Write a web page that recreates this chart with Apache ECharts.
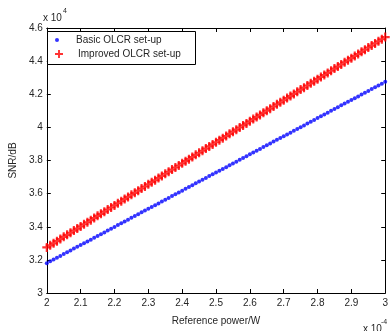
<!DOCTYPE html>
<html>
<head>
<meta charset="utf-8">
<script src="https://cdn.jsdelivr.net/npm/echarts@6/dist/echarts.min.js"></script>
<style>html,body{margin:0;padding:0;background:#fff;}#c{width:391px;height:331px;}</style>
</head>
<body>
<div id="c"></div>
<script>
const seriesNames = ['Basic OLCR set-up', 'Improved OLCR set-up'];
const xTickLabels = ['2','2.1','2.2','2.3','2.4','2.5','2.6','2.7','2.8','2.9','3'];
const yTickLabels = ['3','3.2','3.4','3.6','3.8','4','4.2','4.4','4.6'];
const power = [2.00,2.01,2.02,2.03,2.04,2.05,2.06,2.07,2.08,2.09,
2.10,2.11,2.12,2.13,2.14,2.15,2.16,2.17,2.18,2.19,
2.20,2.21,2.22,2.23,2.24,2.25,2.26,2.27,2.28,2.29,
2.30,2.31,2.32,2.33,2.34,2.35,2.36,2.37,2.38,2.39,
2.40,2.41,2.42,2.43,2.44,2.45,2.46,2.47,2.48,2.49,
2.50,2.51,2.52,2.53,2.54,2.55,2.56,2.57,2.58,2.59,
2.60,2.61,2.62,2.63,2.64,2.65,2.66,2.67,2.68,2.69,
2.70,2.71,2.72,2.73,2.74,2.75,2.76,2.77,2.78,2.79,
2.80,2.81,2.82,2.83,2.84,2.85,2.86,2.87,2.88,2.89,
2.90,2.91,2.92,2.93,2.94,2.95,2.96,2.97,2.98,2.99,3.00];
const basic = [3.180,3.191,3.202,3.213,3.224,3.235,3.246,3.257,3.268,3.279,
3.290,3.300,3.311,3.322,3.333,3.344,3.355,3.366,3.377,3.388,
3.399,3.410,3.421,3.432,3.443,3.454,3.465,3.476,3.487,3.498,
3.509,3.519,3.530,3.541,3.552,3.563,3.574,3.585,3.596,3.607,
3.618,3.629,3.640,3.651,3.662,3.673,3.684,3.695,3.706,3.717,
3.728,3.738,3.749,3.760,3.771,3.782,3.793,3.804,3.815,3.826,
3.837,3.848,3.859,3.870,3.881,3.892,3.903,3.914,3.925,3.936,
3.947,3.957,3.968,3.979,3.990,4.001,4.012,4.023,4.034,4.045,
4.056,4.067,4.078,4.089,4.100,4.111,4.122,4.133,4.144,4.155,
4.166,4.176,4.187,4.198,4.209,4.220,4.231,4.242,4.253,4.264,4.275];
const improved = [3.275,3.288,3.300,3.313,3.326,3.339,3.351,3.364,3.377,3.389,
3.402,3.415,3.427,3.440,3.453,3.466,3.478,3.491,3.504,3.516,
3.529,3.542,3.554,3.567,3.580,3.593,3.605,3.618,3.631,3.643,
3.656,3.669,3.681,3.694,3.707,3.720,3.732,3.745,3.758,3.770,
3.783,3.796,3.808,3.821,3.834,3.847,3.859,3.872,3.885,3.897,
3.910,3.923,3.935,3.948,3.961,3.974,3.986,3.999,4.012,4.024,
4.037,4.050,4.062,4.075,4.088,4.101,4.113,4.126,4.139,4.151,
4.164,4.177,4.189,4.202,4.215,4.228,4.240,4.253,4.266,4.278,
4.291,4.304,4.316,4.329,4.342,4.355,4.367,4.380,4.393,4.405,
4.418,4.431,4.443,4.456,4.469,4.482,4.494,4.507,4.520,4.532,4.545];

const FONT = 'Liberation Sans';
const TXT = '#262626';
const plusPath = 'path://M3.8,0L6.2,0L6.2,3.8L10,3.8L10,6.2L6.2,6.2L6.2,10L3.8,10L3.8,6.2L0,6.2L0,3.8L3.8,3.8Z';

const chart = echarts.init(document.getElementById('c'), null, {renderer: 'canvas'});

function xAxisCfg(pos, showLabel) {
  return {
    type: 'value', min: 2, max: 3, interval: 0.1, position: pos,
    axisLine: {show: true, onZero: false, lineStyle: {color: '#000', width: 1}},
    axisTick: {show: true, inside: true, length: 4, lineStyle: {color: '#000'}},
    axisLabel: {show: showLabel, margin: 5, color: TXT, fontFamily: FONT, fontSize: 10,
      formatter: v => xTickLabels[Math.round((v - 2) * 10)]},
    splitLine: {show: false}
  };
}
function yAxisCfg(pos, showLabel) {
  return {
    type: 'value', min: 3, max: 4.6, interval: 0.2, position: pos,
    axisLine: {show: true, onZero: false, lineStyle: {color: '#000', width: 1}},
    axisTick: {show: true, inside: true, length: 4, lineStyle: {color: '#000'}},
    axisLabel: {show: showLabel, margin: 4, color: TXT, fontFamily: FONT, fontSize: 10,
      formatter: v => yTickLabels[Math.round((v - 3) * 5)]},
    splitLine: {show: false}
  };
}

const xb = xAxisCfg('bottom', true);
xb.name = 'Reference power/W'; xb.nameLocation = 'middle'; xb.nameGap = 23;
xb.nameTextStyle = {color: TXT, fontFamily: FONT, fontSize: 10};
const yl = yAxisCfg('left', true);
yl.name = 'SNR/dB'; yl.nameLocation = 'middle'; yl.nameGap = 27; yl.nameRotate = 90;
yl.nameTextStyle = {color: TXT, fontFamily: FONT, fontSize: 10};

chart.setOption({
  backgroundColor: '#fff',
  animation: false,
  grid: {left: 44, right: 1, top: 28, bottom: 30, containLabel: false},
  xAxis: [xb, xAxisCfg('top', false)],
  yAxis: [yl, yAxisCfg('right', false)],
  legend: [
    {data: [{name: seriesNames[0], icon: 'circle'}], left: 55, top: 35, padding: 0,
     itemWidth: 28, itemHeight: 4, z: 10,
     textStyle: {color: TXT, fontFamily: FONT, fontSize: 10}},
    {data: [{name: seriesNames[1], icon: plusPath}], left: 55, top: 49, padding: 0,
     itemWidth: 28, itemHeight: 8, z: 10,
     textStyle: {color: TXT, fontFamily: FONT, fontSize: 10}}
  ],
  graphic: [
    {type: 'rect', z: 5, shape: {x: 47.5, y: 31.5, width: 148, height: 33},
     style: {fill: '#fff', stroke: '#000', lineWidth: 1}},
    {type: 'text', x: 43, y: 13, style: {text: 'x 10', fill: TXT, font: '10px "Liberation Sans"'}},
    {type: 'text', x: 63, y: 8, style: {text: '4', fill: TXT, font: '7px "Liberation Sans"'}},
    {type: 'text', x: 363, y: 324, style: {text: 'x 10', fill: TXT, font: '10px "Liberation Sans"'}},
    {type: 'text', x: 381, y: 319, style: {text: '-4', fill: TXT, font: '7px "Liberation Sans"'}}
  ],
  series: [
    {name: seriesNames[0], type: 'scatter', symbol: 'circle', symbolSize: 4,
     itemStyle: {color: '#0000ff'}, z: 2,
     data: power.map((p, i) => [p, basic[i]])},
    {name: seriesNames[1], type: 'scatter', symbol: plusPath, symbolSize: 9,
     itemStyle: {color: '#ff0000'}, z: 2,
     data: power.map((p, i) => [p, improved[i]])}
  ]
});
</script>
</body>
</html>
